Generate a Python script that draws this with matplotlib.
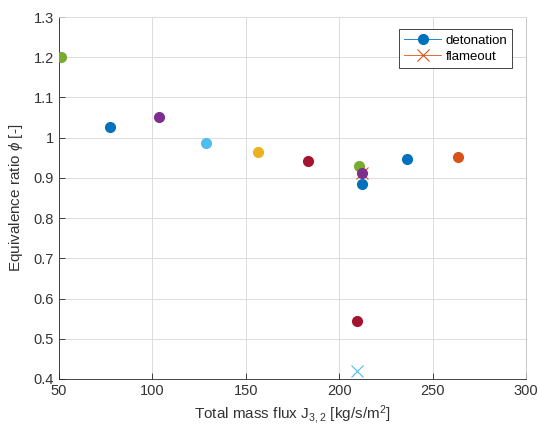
import numpy as np
import matplotlib.pyplot as plt

plt.rcParams['font.family'] = ['Liberation Sans', 'DejaVu Sans']
plt.rcParams['mathtext.fontset'] = 'custom'
plt.rcParams['mathtext.rm'] = 'Liberation Sans'
plt.rcParams['mathtext.it'] = 'Liberation Sans:italic'

# MATLAB default colour order
cols = ['#0072BD', '#D95319', '#EDB120', '#7E2F8E', '#77AC30', '#4DBEEE', '#A2142F']

# detonation points
det_x = [51, 77.5, 103.5, 128.7, 156.5, 183.3, 210.6, 212.2, 212.2, 236.3, 263.6, 209.5]
det_y = [1.200, 1.027, 1.052, 0.987, 0.965, 0.943, 0.930, 0.913, 0.884, 0.947, 0.952, 0.545]
det_c = [4, 0, 3, 5, 2, 6, 4, 3, 0, 0, 1, 6]

# flameout points
fl_x = [212.0, 209.5]
fl_y = [0.913, 0.420]
fl_c = [1, 5]

fig = plt.figure(figsize=(5.38, 4.33), dpi=100)
ax = fig.add_axes([59/538, 1 - 379/433, 467/538, 362/433])

for i in range(len(fl_x)):
    ax.plot(fl_x[i], fl_y[i], 'x', color=cols[fl_c[i]], markersize=9, mew=0.8, zorder=2)
for i in range(len(det_x)):
    ax.plot(det_x[i], det_y[i], 'o', color=cols[det_c[i]], markersize=7, zorder=3)

# legend handles
ax.plot([], [], '-o', color=cols[0], lw=0.6, markersize=7, label='detonation')
ax.plot([], [], '-x', color=cols[1], lw=0.6, markersize=9, mew=0.8, label='flameout')
leg = ax.legend(loc='upper right', fontsize=9.5, fancybox=False, framealpha=1,
                edgecolor='#262626', borderpad=0.4, handlelength=2.8,
                handletextpad=0.3, labelspacing=0.3, bbox_to_anchor=(0.985, 0.985))
leg.get_frame().set_linewidth(0.6)

ax.set_xlim(50, 300)
ax.set_ylim(0.4, 1.3)
ax.set_xticks(np.arange(50, 301, 50))
ax.set_yticks(np.arange(0.4, 1.31, 0.1))
ax.set_yticklabels(['0.4', '0.5', '0.6', '0.7', '0.8', '0.9', '1', '1.1', '1.2', '1.3'])
ax.grid(True, color='#dcdcdc', lw=0.7)
ax.set_axisbelow(True)
ax.tick_params(direction='in', length=4, width=0.6, colors='#262626', labelcolor='#333333',
               labelsize=10.5, top=False, right=False)
for s in ax.spines.values():
    s.set_color('#262626')
    s.set_linewidth(0.6)
ax.spines['top'].set_color('#dcdcdc')
ax.spines['right'].set_color('#bdbdbd')

ax.set_xlabel('Total mass flux J$_{3,2}$ [kg/s/m$^2$]', fontsize=11, color='#333333', labelpad=4)
ax.set_ylabel('Equivalence ratio $\\phi$ [-]', fontsize=11, color='#333333', labelpad=6)

fig.savefig('out.png', dpi=100)
